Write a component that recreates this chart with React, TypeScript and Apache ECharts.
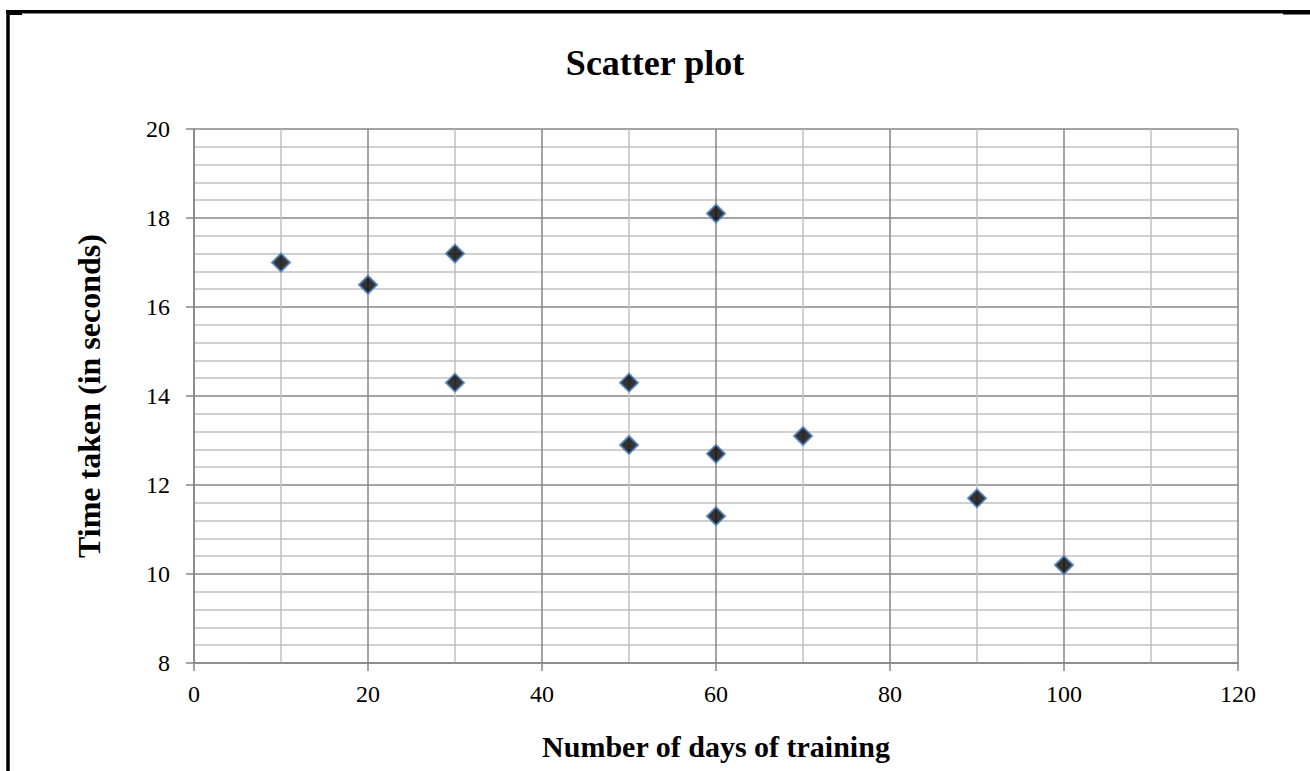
import React, { useEffect, useRef } from "react";
import * as echarts from "echarts";

const titleText = "Scatter plot";
const xAxisName = "Number of days of training";
const yAxisName = "Time taken (in seconds)";
const daysOfTraining = [10, 20, 30, 30, 50, 50, 60, 60, 60, 70, 90, 100];
const timeTaken = [17.0, 16.5, 17.2, 14.3, 14.3, 12.9, 18.1, 12.7, 11.3, 13.1, 11.7, 10.2];

const FONT = "Liberation Serif";

export default function App() {
  const ref = useRef<HTMLDivElement>(null);

  useEffect(() => {
    if (!ref.current) return;
    const chart = echarts.init(ref.current, undefined, { renderer: "svg" });
    const points = daysOfTraining.map((d, i) => [d, timeTaken[i]]);
    const labelStyle = { fontFamily: FONT, fontSize: 24, color: "#000", fontWeight: "normal" };
    chart.setOption({
      animation: false,
      backgroundColor: "#ffffff",
      textStyle: { fontFamily: FONT },
      title: {
        text: titleText,
        left: "center",
        top: 40,
        textStyle: { fontFamily: FONT, fontSize: 36, fontWeight: "bold", color: "#000" },
      },
      grid: { left: 194, top: 129, right: 72, bottom: 108, containLabel: false },
      xAxis: {
        type: "value",
        min: 0,
        max: 120,
        interval: 20,
        name: xAxisName,
        nameLocation: "middle",
        nameGap: 68,
        nameTextStyle: { fontFamily: FONT, fontSize: 30, fontWeight: "bold", color: "#000" },
        axisLine: { show: true, lineStyle: { color: "#868686", width: 1.5 } },
        axisTick: { show: true, length: 8, lineStyle: { color: "#868686", width: 1.5 } },
        axisLabel: { ...labelStyle, margin: 19 },
        splitLine: { show: true, lineStyle: { color: "#868686", width: 1.5 } },
        minorTick: { show: false, splitNumber: 2 },
        minorSplitLine: { show: true, lineStyle: { color: "#c0c0c0", width: 1.5 } },
      },
      yAxis: {
        type: "value",
        min: 8,
        max: 20,
        interval: 2,
        name: yAxisName,
        nameLocation: "middle",
        nameGap: 89,
        nameTextStyle: { fontFamily: FONT, fontSize: 32, fontWeight: "bold", color: "#000" },
        axisLine: { show: true, lineStyle: { color: "#868686", width: 1.5 } },
        axisTick: { show: true, length: 8, lineStyle: { color: "#868686", width: 1.5 } },
        axisLabel: { ...labelStyle, margin: 24 },
        splitLine: { show: true, lineStyle: { color: "#868686", width: 1.5 } },
        minorTick: { show: false, splitNumber: 5 },
        minorSplitLine: { show: true, lineStyle: { color: "#c0c0c0", width: 1.5 } },
      },
      series: [
        {
          type: "scatter",
          data: points,
          symbol: "diamond",
          symbolSize: 18,
          itemStyle: { color: "#000000", borderColor: "#4a7ebb", borderWidth: 2 },
          z: 5,
        },
      ],
      graphic: [
        { type: "line", shape: { x1: 6, y1: 11.7, x2: 1310, y2: 11.7 }, style: { stroke: "#000", lineWidth: 3.5 } },
        { type: "line", shape: { x1: 8, y1: 10, x2: 8, y2: 771 }, style: { stroke: "#000", lineWidth: 3.5 } },
        { type: "rect", shape: { x: 7, y: 12, width: 15, height: 3 }, style: { fill: "#000" } },
        { type: "rect", shape: { x: 1283, y: 12, width: 27, height: 2.5 }, style: { fill: "#000" } },
      ],
    });
    return () => chart.dispose();
  }, []);

  return (
    <div
      ref={ref}
      style={{ position: "fixed", left: 0, top: 0, width: 1310, height: 771, background: "#fff" }}
    />
  );
}
